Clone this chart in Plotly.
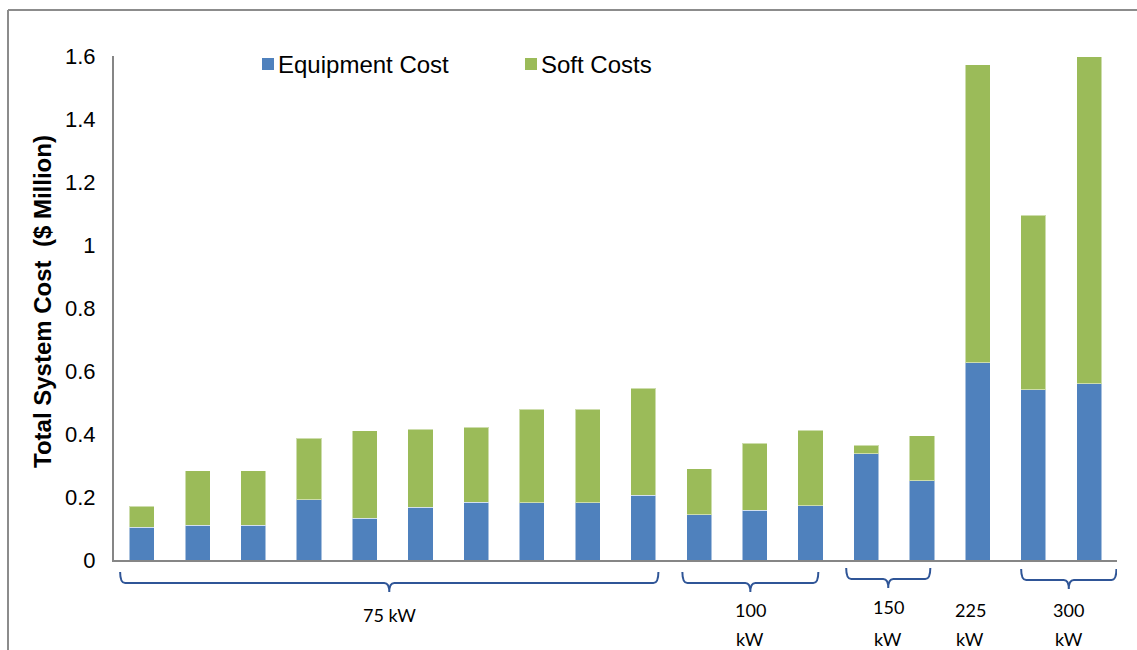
import plotly.graph_objects as go

# ---- data -------------------------------------------------------------
size_groups = ["75 kW"] * 10 + ["100 kW"] * 3 + ["150 kW"] * 2 + ["225 kW"] + ["300 kW"] * 2
equipment_cost = [0.104, 0.110, 0.110, 0.192, 0.133, 0.168, 0.184, 0.182, 0.182, 0.205,
                  0.143, 0.158, 0.172, 0.337, 0.251, 0.627, 0.541, 0.560]
total_cost = [0.171, 0.284, 0.284, 0.386, 0.411, 0.415, 0.422, 0.479, 0.479, 0.545,
              0.290, 0.371, 0.412, 0.365, 0.395, 1.572, 1.095, 1.598]
soft_costs = [round(t - e, 3) for t, e in zip(total_cost, equipment_cost)]
y_ticks = [0, 0.2, 0.4, 0.6, 0.8, 1, 1.2, 1.4, 1.6]
y_tick_text = ["0", "0.2", "0.4", "0.6", "0.8", "1", "1.2", "1.4", "1.6"]

# ---- layout geometry (pixels) ---------------------------------------
W, H = 1137, 650
L, R, T, B = 114, 20, 56, 90
PW, PH = W - L - R, H - T - B

BLUE = "#4F81BD"
GREEN = "#9BBB59"
AXIS = "#868686"
BRACKET = "#2F5597"


def px(xp):
    return (xp - L) / PW


def py(yp):
    return (H - B - yp) / PH


x = list(range(len(equipment_cost)))

fig = go.Figure()
fig.add_trace(go.Bar(x=x, y=equipment_cost, name="Equipment Cost",
                     marker=dict(color=BLUE, line=dict(color="rgba(255,255,255,0.5)", width=1))))
fig.add_trace(go.Bar(x=x, y=soft_costs, name="Soft Costs",
                     marker=dict(color=GREEN, line=dict(color="rgba(255,255,255,0.5)", width=1))))

shapes = []
annotations = []

# outer frame (top and left edges visible)
shapes.append(dict(type="line", xref="paper", yref="paper",
                   x0=px(8), x1=px(W + 5), y0=py(10), y1=py(10),
                   line=dict(color="#8C8C8C", width=2)))
shapes.append(dict(type="line", xref="paper", yref="paper",
                   x0=px(8), x1=px(8), y0=py(10), y1=py(H + 5),
                   line=dict(color="#8C8C8C", width=2)))

# manual legend
legend_items = [("Equipment Cost", BLUE, 262), ("Soft Costs", GREEN, 525)]
for label, color, x0 in legend_items:
    shapes.append(dict(type="rect", xref="paper", yref="paper",
                       x0=px(x0), x1=px(x0 + 12), y0=py(70), y1=py(58),
                       fillcolor=color, line=dict(width=0)))
    annotations.append(dict(xref="paper", yref="paper", x=px(x0 + 14), y=py(64),
                            text=label, showarrow=False, xanchor="left", yanchor="middle",
                            font=dict(family="Liberation Sans, Arial", size=24, color="#000")))

# y axis title
annotations.append(dict(xref="paper", yref="paper", x=px(42), y=py(302),
                        text="Total System Cost&nbsp; ($ Million)", textangle=-90,
                        showarrow=False, xanchor="center", yanchor="middle",
                        font=dict(family="Liberation Sans, Arial", size=24, color="#000",
                                  weight="bold")))

# group brackets below the axis: (left pad, right pad, line y in px)
bracket_style = {
    "75 kW": (0.39, 0.27, 583),
    "100 kW": (0.30, 0.14, 583),
    "150 kW": (0.36, 0.15, 579),
    "225 kW": None,
    "300 kW": (0.22, 0.49, 580),
}
group_order = []
for g in size_groups:
    if g not in group_order:
        group_order.append(g)

label_font = dict(family="Lato, Open Sans", size=18, color="#000")
for g in group_order:
    idx = [i for i, s in enumerate(size_groups) if s == g]
    style = bracket_style[g]
    if style is None:
        mid = idx[0] - 0.13
    else:
        lp, rp, yl = style
        a, b = idx[0] - lp, idx[-1] + rp
        mid = (a + b) / 2
        r = 0.09
        yt, yd = yl - 11, yl + 9
        path = (f"M {a},{py(yt)} Q {a},{py(yl)} {a + r},{py(yl)} "
                f"L {mid - r},{py(yl)} Q {mid},{py(yl)} {mid},{py(yd)} "
                f"Q {mid},{py(yl)} {mid + r},{py(yl)} "
                f"L {b - r},{py(yl)} Q {b},{py(yl)} {b},{py(yt)}")
        shapes.append(dict(type="path", xref="x", yref="paper", path=path,
                           line=dict(color=BRACKET, width=2)))
    num, unit = g.split(" ")
    if g == "75 kW":
        annotations.append(dict(xref="x", yref="paper", x=mid, y=py(615), text=g,
                                showarrow=False, yanchor="middle", font=label_font))
    else:
        ytop = 607 if g == "150 kW" else 610
        annotations.append(dict(xref="x", yref="paper", x=mid, y=py(ytop), text=num,
                                showarrow=False, yanchor="middle", font=label_font))
        annotations.append(dict(xref="x", yref="paper", x=mid, y=py(639), text=unit,
                                showarrow=False, yanchor="middle", font=label_font))

fig.update_layout(
    width=W, height=H,
    margin=dict(l=L, r=R, t=T, b=B, autoexpand=False),
    barmode="stack",
    bargap=0.55,
    showlegend=False,
    paper_bgcolor="white",
    plot_bgcolor="white",
    shapes=shapes,
    annotations=annotations,
    xaxis=dict(range=[-0.5, len(x) - 0.5], showticklabels=False, showgrid=False,
               zeroline=False, showline=True, linecolor=AXIS, linewidth=2, ticks=""),
    yaxis=dict(range=[0, 1.6], tickvals=y_ticks, ticktext=y_tick_text, showgrid=False,
               zeroline=False, showline=True, linecolor=AXIS, linewidth=2, ticks="",
               ticklabelstandoff=12,
               tickfont=dict(family="Liberation Sans, Arial", size=22, color="#000")),
)
fig.update_traces(cliponaxis=False)

fig.write_html("out.html")
